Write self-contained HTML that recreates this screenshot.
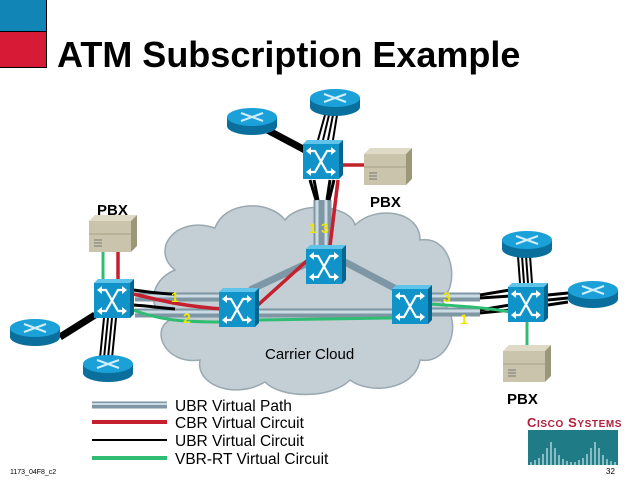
<!DOCTYPE html>
<html><head><meta charset="utf-8"><style>
html,body{margin:0;padding:0;background:#fff;}
svg{display:block;font-family:"Liberation Sans",sans-serif;}
</style></head><body>
<svg width="640" height="480" viewBox="0 0 640 480" xmlns="http://www.w3.org/2000/svg">
<defs>
<g id="sw">
<polygon points="0,4 4,0 40,0 36,4" fill="#5fc3ea"/>
<polygon points="36,4 40,0 40,35 36,39" fill="#00668f"/>
<rect x="0" y="4" width="36" height="35" fill="#0f93c8"/>
<g stroke="#fff" stroke-width="2.2" fill="none">
<path d="M5,11 H12 L24,32 H31 M5,32 H12 L24,11 H31"/>
</g>
<g fill="#fff"><polygon points="3,11 8,7 8,15"/><polygon points="33,11 28,7 28,15"/><polygon points="3,32 8,28 8,36"/><polygon points="33,32 28,28 28,36"/></g>
</g>
<g id="rt">
<path d="M0,10 v9 a25,9 0 0 0 50,0 v-9 z" fill="#0a6f9c"/>
<ellipse cx="25" cy="10" rx="25" ry="9" fill="#1ba0d8"/>
<g stroke="#cfeefa" stroke-width="2"><line x1="14" y1="6" x2="36" y2="14"/><line x1="14" y1="14" x2="36" y2="6"/></g>
</g>
<g id="pbx">
<polygon points="0,6 6,0 48,0 42,6" fill="#dedac6"/>
<polygon points="42,6 48,0 48,31 42,37" fill="#9b9779"/>
<rect x="0" y="6" width="42" height="31" fill="#c9c4ab"/>
<line x1="0" y1="19" x2="42" y2="19" stroke="#a5a08a"/>
<g stroke="#777" stroke-width="1"><line x1="5" y1="25" x2="13" y2="25"/><line x1="5" y1="28" x2="13" y2="28"/><line x1="5" y1="31" x2="13" y2="31"/></g>
</g>
</defs>

<rect x="0" y="0" width="46" height="31" fill="#1185b5"/>
<rect x="0" y="32" width="46" height="35" fill="#d71a35"/>
<line x1="46.5" y1="0" x2="46.5" y2="67" stroke="#000"/>
<line x1="0" y1="31.5" x2="46" y2="31.5" stroke="#000"/>
<line x1="0" y1="67.5" x2="47" y2="67.5" stroke="#000"/>
<text x="57" y="67" font-size="36" font-weight="bold" fill="#000">ATM Subscription Example</text>

<!-- cloud -->
<g fill="#c3ced5" stroke="#9aa8b0" stroke-width="1.5">
<path d="M175,270 C150,250 175,215 215,228 C225,200 270,200 285,220 C300,200 350,205 355,225 C375,205 420,210 420,240 C455,235 460,290 440,300 C465,320 450,365 420,360 C415,390 370,395 350,380 C330,400 280,398 265,382 C235,400 195,385 200,360 C165,365 150,330 170,320 C145,310 150,280 175,270 Z"/>
</g>

<!-- pipes (virtual paths) -->
<g stroke="#7f97a5" stroke-width="9">
<line x1="135" y1="297" x2="222" y2="297"/>
<line x1="135" y1="313" x2="222" y2="313"/>
<line x1="258" y1="313" x2="392" y2="313"/>
<line x1="430" y1="297" x2="480" y2="297"/>
<line x1="430" y1="312" x2="480" y2="312"/>
<line x1="318" y1="200" x2="318" y2="246"/>
<line x1="327" y1="200" x2="327" y2="246"/>
</g>
<g stroke="#cadbe3" stroke-width="3">
<line x1="135" y1="296" x2="222" y2="296"/>
<line x1="135" y1="312" x2="222" y2="312"/>
<line x1="258" y1="312" x2="392" y2="312"/>
<line x1="430" y1="296" x2="480" y2="296"/>
<line x1="430" y1="311" x2="480" y2="311"/>
<line x1="317" y1="200" x2="317" y2="246"/>
<line x1="326" y1="200" x2="326" y2="246"/>
</g>
<g stroke="#7d97a6" stroke-width="7">
<line x1="250" y1="290" x2="310" y2="262"/>
<line x1="345" y1="262" x2="398" y2="290"/>
</g>

<!-- black circuits -->
<g stroke="#000" stroke-width="3" fill="none">
<path d="M133,290 C150,292 160,294 175,294"/>
<path d="M133,305 C150,306 160,308 175,309"/>
<path d="M480,295 L510,290"/><path d="M480,298 L510,296"/>
<path d="M480,310 L510,305"/><path d="M480,313 L510,310"/>
<path d="M314,180 L318,200"/><path d="M310,180 L316,200"/>
<path d="M330,180 L327,200"/><path d="M334,180 L329,200"/>
<path d="M548,295 L568,293"/><path d="M548,300 L568,298"/><path d="M548,305 L568,302"/>
</g>
<g stroke="#000" stroke-width="7">
<line x1="258" y1="125" x2="305" y2="150"/>
<line x1="60" y1="337" x2="95" y2="315"/>
</g>
<g stroke="#000" stroke-width="2">
<line x1="325" y1="115" x2="318" y2="140"/><line x1="329" y1="115" x2="323" y2="140"/><line x1="333" y1="115" x2="328" y2="140"/><line x1="337" y1="115" x2="333" y2="140"/>
<line x1="104" y1="318" x2="100" y2="358"/><line x1="108" y1="318" x2="104" y2="358"/><line x1="112" y1="318" x2="108" y2="358"/><line x1="116" y1="318" x2="112" y2="358"/>
<line x1="518" y1="256" x2="520" y2="283"/><line x1="522" y1="256" x2="524" y2="283"/><line x1="526" y1="256" x2="528" y2="283"/><line x1="530" y1="256" x2="532" y2="283"/>
</g>

<!-- red circuits -->
<g stroke="#c4202e" stroke-width="3.5" fill="none">
<path d="M133,294 C160,300 180,306 222,309"/>
<line x1="118" y1="250" x2="118" y2="280"/>
<line x1="342" y1="165" x2="364" y2="165"/>
<path d="M338,180 L330,246"/>
<line x1="258" y1="305" x2="310" y2="258"/>
</g>
<!-- green circuits -->
<g stroke="#2fbd73" stroke-width="3" fill="none">
<path d="M133,310 C160,320 180,322 222,322"/>
<line x1="258" y1="320" x2="392" y2="318"/>
<line x1="103" y1="250" x2="103" y2="280"/>
<path d="M430,304 C460,306 490,308 510,312"/>
<line x1="527" y1="322" x2="527" y2="345"/>
</g>

<!-- devices -->
<use href="#rt" x="227" y="107"/>
<use href="#rt" x="310" y="88"/>
<use href="#rt" x="10" y="318"/>
<use href="#rt" x="83" y="354"/>
<use href="#rt" x="502" y="230"/>
<use href="#rt" x="568" y="280"/>
<use href="#sw" x="303" y="140"/>
<use href="#sw" x="306" y="245"/>
<use href="#sw" x="94" y="279"/>
<use href="#sw" x="219" y="288"/>
<use href="#sw" x="392" y="285"/>
<use href="#sw" x="508" y="283"/>
<use href="#pbx" x="364" y="148"/>
<use href="#pbx" x="89" y="215"/>
<use href="#pbx" x="503" y="345"/>

<!-- labels -->
<g font-size="15" fill="#000" font-weight="bold">
<text x="370" y="207">PBX</text>
<text x="97" y="215">PBX</text>
<text x="507" y="404">PBX</text>
</g>
<text x="265" y="359" font-size="15" fill="#000">Carrier Cloud</text>
<g font-size="14" fill="#f2e600" font-weight="bold">
<text x="309" y="233">1</text><text x="321" y="233">3</text>
<text x="171" y="302">1</text><text x="183" y="323">2</text>
<text x="443" y="302">3</text><text x="460" y="324">1</text>
</g>

<!-- legend -->
<line x1="92" y1="405" x2="167" y2="405" stroke="#7f97a5" stroke-width="7"/>
<line x1="92" y1="404" x2="167" y2="404" stroke="#cadbe3" stroke-width="2"/>
<line x1="92" y1="422" x2="167" y2="422" stroke="#c4202e" stroke-width="4"/>
<line x1="92" y1="440" x2="167" y2="440" stroke="#000" stroke-width="2"/>
<line x1="92" y1="458" x2="167" y2="458" stroke="#2fbd73" stroke-width="4"/>
<g font-size="15.5" fill="#000">
<text x="175" y="411">UBR Virtual Path</text>
<text x="175" y="428">CBR Virtual Circuit</text>
<text x="175" y="446">UBR Virtual Circuit</text>
<text x="175" y="464">VBR-RT Virtual Circuit</text>
</g>
<text x="10" y="474" font-size="7" fill="#000">1173_04F8_c2</text>

<!-- cisco logo -->
<text x="527" y="427" font-size="13" fill="#b0203a" font-weight="bold" letter-spacing="0.6">C<tspan font-size="10">ISCO</tspan> S<tspan font-size="10">YSTEMS</tspan></text>
<rect x="528" y="430" width="90" height="35" fill="#1f7b86"/>
<g stroke="#cfe9ee" stroke-width="1.2">
<line x1="531" y1="465" x2="531" y2="462"/><line x1="535" y1="465" x2="535" y2="460"/><line x1="539" y1="465" x2="539" y2="458"/><line x1="543" y1="465" x2="543" y2="454"/><line x1="547" y1="465" x2="547" y2="448"/><line x1="551" y1="465" x2="551" y2="442"/><line x1="555" y1="465" x2="555" y2="448"/><line x1="559" y1="465" x2="559" y2="455"/><line x1="563" y1="465" x2="563" y2="459"/><line x1="567" y1="465" x2="567" y2="461"/><line x1="571" y1="465" x2="571" y2="462"/><line x1="575" y1="465" x2="575" y2="462"/><line x1="579" y1="465" x2="579" y2="460"/><line x1="583" y1="465" x2="583" y2="458"/><line x1="587" y1="465" x2="587" y2="454"/><line x1="591" y1="465" x2="591" y2="448"/><line x1="595" y1="465" x2="595" y2="442"/><line x1="599" y1="465" x2="599" y2="448"/><line x1="603" y1="465" x2="603" y2="455"/><line x1="607" y1="465" x2="607" y2="459"/><line x1="611" y1="465" x2="611" y2="461"/><line x1="615" y1="465" x2="615" y2="462"/>
</g>
<text x="606" y="474" font-size="8" fill="#000">32</text>
</svg>
</body></html>
